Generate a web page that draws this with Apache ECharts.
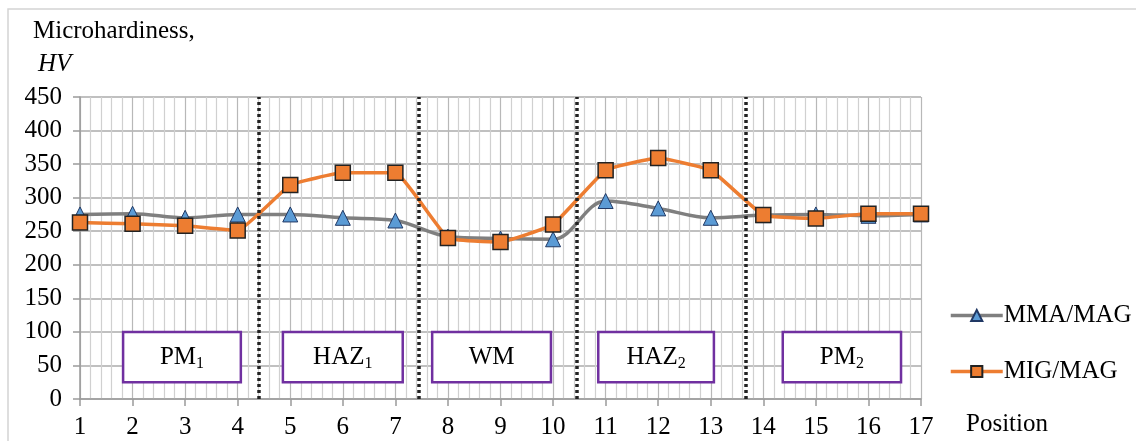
<!DOCTYPE html>
<html>
<head>
<meta charset="utf-8">
<style>
  html, body { margin: 0; padding: 0; background: #fff; }
  #chart { width: 1136px; height: 441px; }
</style>
<script src="https://cdn.jsdelivr.net/npm/echarts@6/dist/echarts.min.js"></script>
</head>
<body>
<div id="chart"></div>
<script>
var positions = [1, 2, 3, 4, 5, 6, 7, 8, 9, 10, 11, 12, 13, 14, 15, 16, 17];
var mmaMag = [275, 276, 270, 275, 275, 270, 266, 242, 239, 238, 295, 284, 270, 274, 275, 273, 275];
var migMag = [263, 261, 258, 251, 319, 337, 337, 240, 234, 260, 341, 359, 341, 274, 269, 276, 276];
// zone borders (dotted) and zone boxes
var zoneBorders = [4.4, 7.44, 10.46, 13.66];
var zoneNames = ["PM", "HAZ", "WM", "HAZ", "PM"];
var zoneSubs = ["1", "1", "", "2", "2"];
var zoneFrom = [1.82, 4.86, 7.7, 10.86, 14.37];
var zoneTo = [4.06, 7.14, 9.96, 13.06, 16.62];
var zoneLow = 25, zoneHigh = 100;

var serif = "'Liberation Serif', 'DejaVu Serif', serif";
var chart = echarts.init(document.getElementById("chart"));

function pairs(ys) {
  return positions.map(function (x, i) { return [x, ys[i]]; });
}

var boxes = zoneNames.map(function (n, i) {
  return [
    {
      xAxis: zoneFrom[i],
      yAxis: zoneLow,
      label: { formatter: zoneSubs[i] ? "{m|" + n + "}{s|" + zoneSubs[i] + "}" : "{m|" + n + "}" }
    },
    { xAxis: zoneTo[i], yAxis: zoneHigh }
  ];
});

var option = {
  animation: false,
  backgroundColor: "#fff",
  title: [
    { text: "Microhardiness,", left: 28, top: 14, textStyle: { fontFamily: serif, fontSize: 25, fontWeight: "normal", color: "#000" } },
    { text: "HV", left: 33, top: 47, textStyle: { fontFamily: serif, fontSize: 25, fontWeight: "normal", fontStyle: "italic", color: "#000" } }
  ],
  graphic: [
    { type: "rect", shape: { x: 8, y: 9, width: 1200, height: 500 }, style: { fill: "none", stroke: "#d4d4d4", lineWidth: 1.5 }, silent: true },
    { type: "text", left: 966, top: 412, style: { text: "Position", font: "25px " + serif, fill: "#000" } }
  ],
  legend: {
    orient: "vertical",
    left: 944,
    top: 298,
    itemWidth: 52,
    itemHeight: 14,
    itemGap: 31,
    lineStyle: { width: 3.5 },
    textStyle: { fontFamily: serif, fontSize: 25, color: "#000", padding: [0, 0, 0, -4] },
    data: ["MMA/MAG", "MIG/MAG"]
  },
  grid: { left: 80, right: 215, top: 97, bottom: 42 },
  xAxis: {
    type: "value",
    min: 1,
    max: 17,
    interval: 1,
    axisLine: { lineStyle: { color: "#9a9a9a", width: 1.5 } },
    axisTick: { show: true, length: 7, lineStyle: { color: "#9a9a9a", width: 1.5 } },
    axisLabel: { fontFamily: serif, fontSize: 25, color: "#000", margin: 16 },
    splitLine: { show: true, lineStyle: { color: "#b8b8b8", width: 1.2 } },
    minorTick: { show: false, splitNumber: 5 },
    minorSplitLine: { show: true, lineStyle: { color: "#d0d0d0", width: 1.2 } }
  },
  yAxis: {
    type: "value",
    min: 0,
    max: 450,
    interval: 50,
    axisLine: { show: true, lineStyle: { color: "#9a9a9a", width: 1.5 } },
    axisTick: { show: true, length: 7, lineStyle: { color: "#9a9a9a", width: 1.5 } },
    axisLabel: { fontFamily: serif, fontSize: 25, color: "#000", margin: 18 },
    splitLine: { show: true, lineStyle: { color: "#ababab", width: 1.5 } }
  },
  series: [
    {
      name: "MMA/MAG",
      type: "line",
      smooth: 0.35,
      data: pairs(mmaMag),
      symbol: "triangle",
      symbolSize: 15,
      lineStyle: { color: "#7f7f7f", width: 3.5 },
      itemStyle: { color: "#5b9bd5", borderColor: "#203864", borderWidth: 1 },
      z: 3,
      markLine: {
        silent: true,
        symbol: "none",
        label: { show: false },
        lineStyle: { color: "#222", type: [3, 3], width: 3.5 },
        data: zoneBorders.map(function (v) { return { xAxis: v }; })
      },
      markArea: {
        silent: true,
        itemStyle: { color: "#fff", borderColor: "#7030a0", borderWidth: 2.5 },
        label: {
          show: true,
          position: "inside",
          rich: {
            m: { fontFamily: serif, fontSize: 25, color: "#000" },
            s: { fontFamily: serif, fontSize: 16, color: "#000", padding: [14, 0, 0, 0] }
          }
        },
        data: boxes
      }
    },
    {
      name: "MIG/MAG",
      type: "line",
      smooth: 0.1,
      data: pairs(migMag),
      symbol: "rect",
      symbolSize: 15,
      lineStyle: { color: "#ed7d31", width: 3.5 },
      itemStyle: { color: "#ed7d31", borderColor: "#222", borderWidth: 1.5 },
      z: 4
    }
  ]
};
chart.setOption(option);
</script>
</body>
</html>
